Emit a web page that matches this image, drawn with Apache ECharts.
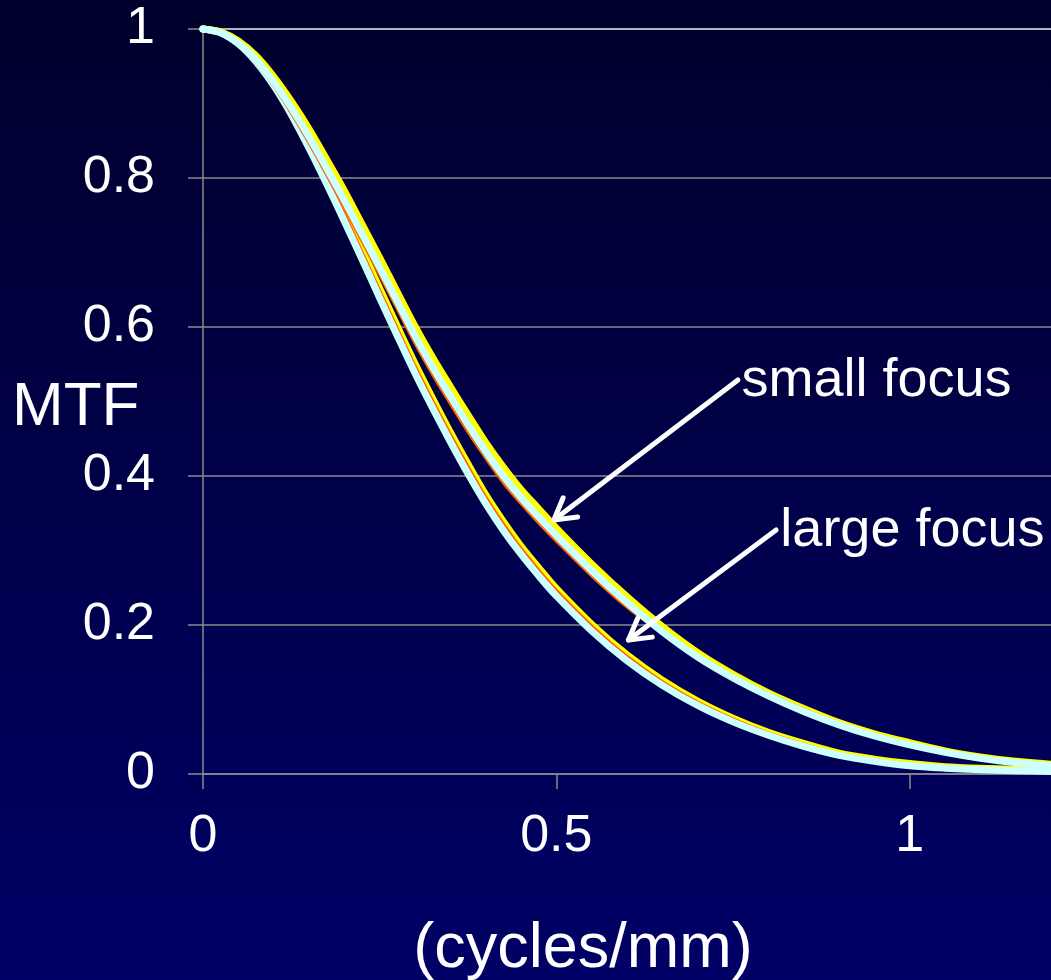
<!DOCTYPE html>
<html>
<head>
<meta charset="utf-8">
<script src="https://cdn.jsdelivr.net/npm/echarts@6/dist/echarts.min.js"></script>
<style>
  html, body { margin: 0; padding: 0; background: #000040; }
  #chart { width: 1051px; height: 980px; }
</style>
</head>
<body>
<div id="chart"></div>
<script>
// Spatial frequency samples (cycles/mm)
const freq = [0, 0.025, 0.05, 0.075, 0.1, 0.125, 0.15, 0.175, 0.2, 0.225, 0.25, 0.275, 0.3,
  0.325, 0.35, 0.375, 0.4, 0.425, 0.45, 0.475, 0.5, 0.55, 0.6, 0.65, 0.7, 0.75, 0.8, 0.85,
  0.9, 0.95, 1.0, 1.05, 1.1, 1.15, 1.2];

// Large focal spot MTF curves
const largeCyan = [1.000, 0.995, 0.980, 0.956, 0.924, 0.885, 0.840, 0.792, 0.742, 0.691, 0.639, 0.588, 0.538,
  0.491, 0.446, 0.403, 0.363, 0.327, 0.295, 0.266, 0.239, 0.192, 0.152, 0.119, 0.092, 0.070, 0.052, 0.037,
  0.025, 0.017, 0.011, 0.0078, 0.0057, 0.0045, 0.0035];
const largeYellow = [1.000, 0.996, 0.983, 0.961, 0.931, 0.894, 0.851, 0.804, 0.755, 0.704, 0.652, 0.601, 0.551,
  0.504, 0.459, 0.416, 0.375, 0.339, 0.306, 0.277, 0.249, 0.201, 0.160, 0.126, 0.098, 0.075, 0.056, 0.041,
  0.028, 0.020, 0.014, 0.0098, 0.0077, 0.0065, 0.0055];
const largeOrange = [1.000, 0.996, 0.982, 0.960, 0.929, 0.892, 0.848, 0.801, 0.752, 0.701, 0.649, 0.598, 0.548,
  0.501, 0.456, 0.413, 0.372, 0.336, 0.303, 0.274, 0.2465, 0.199, 0.158, 0.124, 0.0965, 0.074, 0.055, 0.040,
  0.027, 0.019, 0.013, 0.0093, 0.0072, 0.006, 0.005];

// Small focal spot MTF curves
const smallCyan = [1.000, 0.995, 0.981, 0.959, 0.929, 0.894, 0.855, 0.813, 0.770, 0.725, 0.680, 0.634, 0.588,
  0.546, 0.507, 0.469, 0.433, 0.400, 0.371, 0.345, 0.320, 0.273, 0.230, 0.191, 0.157, 0.129, 0.105, 0.084,
  0.066, 0.051, 0.039, 0.029, 0.021, 0.015, 0.011];
const smallYellow = [1.000, 0.996, 0.984, 0.964, 0.936, 0.903, 0.866, 0.825, 0.783, 0.738, 0.693, 0.647, 0.601,
  0.559, 0.520, 0.482, 0.445, 0.412, 0.382, 0.356, 0.330, 0.282, 0.238, 0.198, 0.163, 0.134, 0.109, 0.088,
  0.069, 0.054, 0.042, 0.031, 0.023, 0.017, 0.013];
const smallOrange = [1.000, 0.994, 0.979, 0.955, 0.924, 0.887, 0.847, 0.804, 0.760, 0.715, 0.670, 0.624, 0.578,
  0.536, 0.497, 0.459, 0.424, 0.391, 0.363, 0.337, 0.3125, 0.266, 0.224, 0.189, 0.157, 0.131, 0.108, 0.087,
  0.068, 0.053, 0.041, 0.0305, 0.0225, 0.0165, 0.0125];

// Axis settings
const xTicks = { min: 0, max: 1.2, step: 0.5 };
const yTicks = { min: 0, max: 1, step: 0.2 };

// Callouts: label anchor, arrow tail and arrow tip in data units
const callouts = [
  { text: 'small focus', label: [0.762, 0.527], tail: [0.757, 0.529], tip: [0.4965, 0.341] },
  { text: 'large focus', label: [0.817, 0.326], tail: [0.811, 0.3275], tip: [0.602, 0.180] }
];

const FONT = '"Liberation Sans", Arial, Helvetica, sans-serif';
const COLORS = { cyan: '#ccffff', yellow: '#ffff00', orange: '#ff6600' };

function pairs(ys) { return freq.map((x, i) => [x, ys[i]]); }

function curve(name, ys, color, width, z) {
  return {
    name: name, type: 'line', data: pairs(ys), smooth: 0.3, showSymbol: false, symbol: 'none',
    clip: false, z: z, silent: true,
    lineStyle: { color: color, width: width, cap: 'round', join: 'round' }
  };
}

const chart = echarts.init(document.getElementById('chart'), null, { renderer: 'canvas' });

const gridLineColors = ['#8a8a8a', '#8a8a8a', '#8a8a8a', '#8a8a8a', '#8a8a8a', '#f0f0f0'];

chart.setOption({
  animation: false,
  grid: { left: 203, top: 29, width: 851, height: 745, containLabel: false },
  xAxis: {
    type: 'value', min: xTicks.min, max: xTicks.max, interval: xTicks.step,
    axisLine: { show: true, lineStyle: { color: '#8a8a8a', width: 1.5 } },
    axisTick: { show: true, inside: false, length: 15, lineStyle: { color: '#8a8a8a', width: 1.5 } },
    axisLabel: { color: '#ffffff', fontFamily: FONT, fontSize: 52, margin: 37, showMaxLabel: false },
    splitLine: { show: false }
  },
  yAxis: {
    type: 'value', min: yTicks.min, max: yTicks.max, interval: yTicks.step,
    axisLine: { show: true, lineStyle: { color: '#8a8a8a', width: 1.5 } },
    axisTick: { show: true, inside: false, length: 15, lineStyle: { color: '#8a8a8a', width: 1.5 } },
    axisLabel: { color: '#ffffff', fontFamily: FONT, fontSize: 52, margin: 48 },
    splitLine: { show: true, lineStyle: { color: gridLineColors, width: 1.5 } }
  },
  series: [
    curve('large yellow', largeYellow, COLORS.yellow, 7, 2),
    curve('large orange', largeOrange, COLORS.orange, 3, 3),
    curve('large cyan', largeCyan, COLORS.cyan, 7, 4),
    curve('small yellow', smallYellow, COLORS.yellow, 7, 5),
    curve('small orange', smallOrange, COLORS.orange, 3, 6),
    curve('small cyan', smallCyan, COLORS.cyan, 7, 7)
  ]
});

// Background, axis titles and callout arrows
const graphics = [
  {
    type: 'rect', z: -100, silent: true,
    shape: { x: 0, y: 0, width: 1051, height: 980 },
    style: {
      fill: new echarts.graphic.LinearGradient(0, 0, 0, 1, [
        { offset: 0, color: '#00002c' },
        { offset: 1, color: '#000066' }
      ])
    }
  },
  {
    type: 'text', z: 10, silent: true,
    style: { text: 'MTF', x: 12, y: 408, fill: '#ffffff', font: '62px ' + FONT, align: 'left', verticalAlign: 'middle' }
  },
  {
    type: 'text', z: 10, silent: true,
    style: { text: '(cycles/mm)', x: 583, y: 950, fill: '#ffffff', font: '63px ' + FONT, align: 'center', verticalAlign: 'middle' }
  }
];

const toPx = (p) => chart.convertToPixel({ gridIndex: 0 }, p);

callouts.forEach((c) => {
  const lp = toPx(c.label), tail = toPx(c.tail), tip = toPx(c.tip);
  graphics.push({
    type: 'text', z: 10, silent: true,
    style: { text: c.text, x: lp[0], y: lp[1], fill: '#ffffff', font: '54px ' + FONT, align: 'left', verticalAlign: 'middle' }
  });
  graphics.push({
    type: 'line', z: 10, silent: true,
    shape: { x1: tail[0], y1: tail[1], x2: tip[0], y2: tip[1] },
    style: { stroke: '#ffffff', lineWidth: 5, lineCap: 'round' }
  });
  const ang = Math.atan2(tail[1] - tip[1], tail[0] - tip[0]);
  const head = 24, spread = Math.PI / 6;
  const w1 = [tip[0] + head * Math.cos(ang + spread), tip[1] + head * Math.sin(ang + spread)];
  const w2 = [tip[0] + head * Math.cos(ang - spread), tip[1] + head * Math.sin(ang - spread)];
  graphics.push({
    type: 'polyline', z: 10, silent: true,
    shape: { points: [w1, tip, w2] },
    style: { stroke: '#ffffff', lineWidth: 5, lineCap: 'round', lineJoin: 'round', fill: null }
  });
});

chart.setOption({ graphic: graphics });
</script>
</body>
</html>
